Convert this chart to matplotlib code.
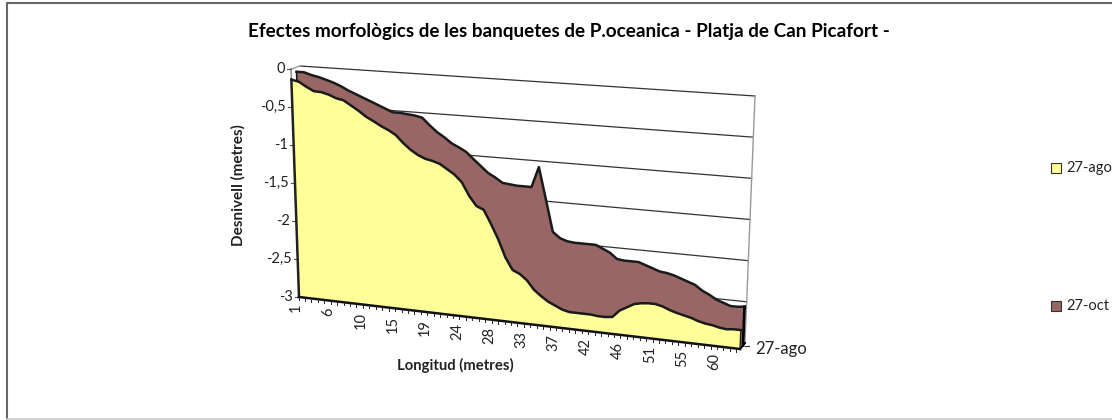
import matplotlib
matplotlib.use('Agg')
import matplotlib.pyplot as plt
import numpy as np

title = 'Efectes morfològics de les banquetes de P.oceanica - Platja de Can Picafort -'
ylabel = 'Desnivell (metres)'
xlabel = 'Longitud (metres)'
series_names = ['27-ago', '27-oct']
y_ticks = [0, -0.5, -1, -1.5, -2, -2.5, -3]
y_tick_labels = ['0', '-0,5', '-1', '-1,5', '-2', '-2,5', '-3']
x_tick_labels = [1, 6, 10, 15, 19, 24, 28, 33, 37, 42, 46, 51, 55, 60]

ago = [-0.14, -0.16, -0.22, -0.27, -0.275, -0.30, -0.34, -0.36, -0.42, -0.48,
       -0.55, -0.60, -0.655, -0.70, -0.755, -0.85, -0.93, -0.99, -1.03, -1.05,
       -1.08, -1.14, -1.20, -1.29, -1.455, -1.575, -1.615, -1.785, -1.97, -2.19,
       -2.34, -2.38, -2.45, -2.56, -2.63, -2.69, -2.73, -2.77, -2.79, -2.79,
       -2.79, -2.79, -2.80, -2.80, -2.79, -2.70, -2.65, -2.60, -2.58, -2.57,
       -2.57, -2.59, -2.625, -2.65, -2.67, -2.69, -2.72, -2.74, -2.75, -2.77,
       -2.78, -2.77, -2.77]
oct_ = [-0.06, -0.06, -0.09, -0.11, -0.14, -0.17, -0.21, -0.26, -0.30, -0.34,
        -0.38, -0.42, -0.46, -0.50, -0.50, -0.51, -0.52, -0.54, -0.63, -0.71,
        -0.77, -0.84, -0.885, -0.935, -1.02, -1.10, -1.18, -1.23, -1.29, -1.30,
        -1.31, -1.31, -1.31, -1.05, -1.45, -1.85, -1.92, -1.95, -1.96, -1.96,
        -1.96, -1.96, -2.00, -2.04, -2.11, -2.12, -2.12, -2.12, -2.15, -2.18,
        -2.21, -2.22, -2.24, -2.27, -2.30, -2.33, -2.39, -2.43, -2.48, -2.51,
        -2.54, -2.54, -2.53]

# corners of the fake 3d planes, in pixels: top left, top right, bottom right, bottom left
front = np.array([[291, 69], [750, 102], [740, 349], [299, 297]], float)
back = np.array([[300, 66], [755, 96], [745, 343], [308, 293]], float)
oct_depth = 0.6
tick_step = 1 / 68.5  # small ticks along the length, a label every 5 of them


def project(u, val, depth=0.0):
    # u goes 0..1 along the length, val is metres, depth 0 front, 1 back
    u = np.asarray(u, float)
    v = -np.asarray(val, float) / 3.0
    corners = front + (back - front) * depth
    top = corners[0] + (corners[1] - corners[0]) * u[..., None]
    bot = corners[3] + (corners[2] - corners[3]) * u[..., None]
    p = top + (bot - top) * v[..., None]
    return p[..., 0], p[..., 1]


fig = plt.figure(figsize=(11.12, 4.2), dpi=100)
plt.rcParams['font.family'] = ['Lato', 'DejaVu Sans']
ax = fig.add_axes([0, 0, 1, 1])
ax.set_xlim(0, 1112)
ax.set_ylim(420, 0)
ax.axis('off')

# outer frame, runs off the right side of the picture
ax.plot([1112, 7, 7], [3, 3, 419], color='#666666', lw=1.5)
ax.plot([7, 1112], [419, 419], color='#c8c8c8', lw=1.2)

# back wall
for t in y_ticks:
    gx, gy = project(np.array([0.0, 1.0]), np.array([t, t], float), 1.0)
    ax.plot(gx, gy, color='#333333', lw=0.9, zorder=1)
rx, ry = project(np.array([1.0, 1.0]), np.array([0.0, -3.0]), 1.0)
ax.plot(rx, ry, color='#999999', lw=1.0, zorder=1)
tx, ty = project(np.array([0.0, 0.0]), np.array([0.0, 0.0]))
bx, by = project(np.array([0.0, 0.0]), np.array([0.0, 0.0]), 1.0)
ax.plot([tx[0], bx[0]], [ty[0], by[0]], color='#999999', lw=1.0, zorder=1)

n = len(ago)
u = np.arange(n) / (n - 1)

# 27-oct sits behind
ox, oy = project(u, np.array(oct_), oct_depth)
ox0, oy0 = project(u, np.full(n, -3.0), oct_depth)
ax.fill(np.r_[ox, ox0[::-1]], np.r_[oy, oy0[::-1]], color='#996666', zorder=2, lw=0)
ax.plot(ox, oy, color='#1a1a1a', lw=1.8, zorder=3)
ax.plot([ox[-1], ox0[-1]], [oy[-1], oy0[-1]], color='black', lw=2, zorder=3)
ax.plot([ox[0], ox0[0]], [oy[0], oy0[0]], color='#1a1a1a', lw=1.2, zorder=3)

# 27-ago in front
ax_, ay_ = project(u, np.array(ago))
ax0, ay0 = project(u, np.full(n, -3.0))
ax.fill(np.r_[ax_, ax0[::-1]], np.r_[ay_, ay0[::-1]], color='#FFFF99', zorder=4, lw=0)
ax.plot(ax_, ay_, color='#1a1a1a', lw=1.8, zorder=5)
ax.plot([ax_[0], ax0[0]], [ay_[0], ay0[0]], color='#222222', lw=1.8, zorder=5)
ax.plot(ax0, ay0, color='#111111', lw=1.8, zorder=5)
ax.plot([ax_[-1], ax0[-1]], [ay_[-1], ay0[-1]], color='#222222', lw=1.0, zorder=5)

# y axis and ticks
lx, ly = project(np.array([0.0, 0.0]), np.array([0.0, -3.0]))
ax.plot(lx, ly, color='#777777', lw=0.9, zorder=3)
for t, lab in zip(y_ticks, y_tick_labels):
    px, py = project(np.array(0.0), np.array(float(t)))
    ax.plot([px - 4, px], [py, py], color='#555555', lw=0.8, zorder=3)
    ax.text(px - 6, py, lab, ha='right', va='center', fontsize=10.5, color='#222222')

# x ticks
for k in np.arange(0, 1.0001, tick_step):
    xt, yt = project(np.array(k), np.array(-3.0))
    ax.plot([xt - 0.5, xt - 0.5], [yt, yt + 3], color='#222222', lw=0.7, zorder=5)
for i, lab in enumerate(x_tick_labels):
    pos = np.array(i * 5 * tick_step)
    px, py = project(pos, np.array(-3.0))
    ax.text(px - 3, py + 7, str(lab), rotation=90, ha='center', va='top', fontsize=10.5,
            color='#222222')

# depth axis
zx, zy = project(np.array([1.0, 1.0]), np.array([-3.0, -3.0]))
ex, ey = project(np.array(1.0), np.array(-3.0), 1.0)
ax.plot([zx[0], ex], [zy[0], ey], color='black', lw=1.4, zorder=5)
ax.plot([ex, ex + 4], [ey + 3, ey + 3], color='#333333', lw=0.8, zorder=5)
ax.text(755, 349, series_names[0], ha='left', va='center', fontsize=12, color='#222222')

# titles
ax.text(248, 31, title, ha='left', va='center', fontsize=13.6, fontweight='bold', color='black')
ax.text(238, 185, ylabel, rotation=90, ha='center', va='center', fontsize=11,
        fontweight='bold', color='#222222')
ax.text(455, 365, xlabel, ha='center', va='center', fontsize=10.7, fontweight='bold',
        color='#222222')

# legend
for name, col, yl in zip(series_names, ['#FFFF99', '#996666'], [168, 306]):
    ax.add_patch(plt.Rectangle((1051, yl - 5), 10, 10, facecolor=col, edgecolor='#333333', lw=0.8))
    ax.text(1066, yl, name, ha='left', va='center', fontsize=10.5, color='#222222')

fig.savefig('out.png', dpi=100)
